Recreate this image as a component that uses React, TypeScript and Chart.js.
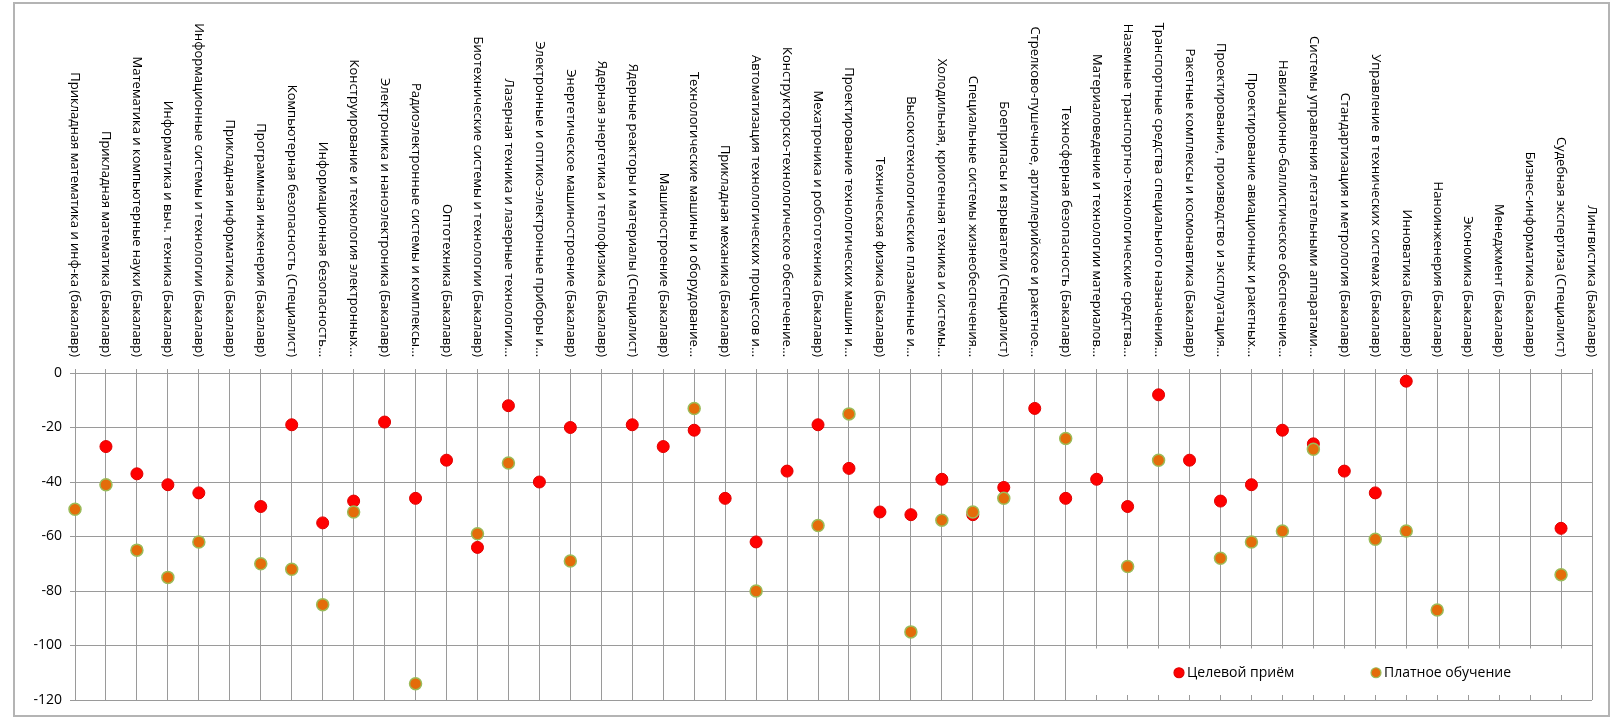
import React, { useEffect, useRef } from "react";
import { Chart, registerables } from "chart.js";

Chart.register(...registerables);

const categories: string[] = [
  "Прикладная математика и инф-ка (бакалавр)",
  "Прикладная математика (Бакалавр)",
  "Математика и компьютерные науки (Бакалавр)",
  "Информатика и выч. техника (Бакалавр)",
  "Информационные системы и технологии (Бакалавр)",
  "Прикладная информатика (Бакалавр)",
  "Программная инженерия (Бакалавр)",
  "Компьютерная безопасность (Специалист)",
  "Информационная безопасность…",
  "Конструирование и технология электронных…",
  "Электроника и наноэлектроника (Бакалавр)",
  "Радиоэлектронные системы и комплексы…",
  "Оптотехника (Бакалавр)",
  "Биотехнические системы и технологии (Бакалавр)",
  "Лазерная техника и лазерные технологии…",
  "Электронные и оптико-электронные приборы и…",
  "Энергетическое машиностроение (Бакалавр)",
  "Ядерная энергетика и теплофизика (Бакалавр)",
  "Ядерные реакторы и материалы (Специалист)",
  "Машиностроение (Бакалавр)",
  "Технологические машины и оборудование…",
  "Прикладная механика (Бакалавр)",
  "Автоматизация технологических процессов и…",
  "Конструкторско-технологическое обеспечение…",
  "Мехатроника и робототехника (Бакалавр)",
  "Проектирование технологических машин и…",
  "Техническая физика (Бакалавр)",
  "Высокотехнологические плазменные и…",
  "Холодильная, криогенная техника и системы…",
  "Специальные системы жизнеобеспечения…",
  "Боеприпасы и взрыватели (Специалист)",
  "Стрелково-пушечное, артиллерийское и ракетное…",
  "Техносферная безопасность (Бакалавр)",
  "Материаловедение и технологии материалов…",
  "Наземные транспортно-технологические средства…",
  "Транспортные средства специального назначения…",
  "Ракетные комплексы и космонавтика (Бакалавр)",
  "Проектирование, производство и эксплуатация…",
  "Проектирование авиационных и ракетных…",
  "Навигационно-баллистическое обеспечение…",
  "Системы управления летательными аппаратами…",
  "Стандартизация и метрология (Бакалавр)",
  "Управление в технических системах (Бакалавр)",
  "Инноватика (Бакалавр)",
  "Наноинженерия (Бакалавр)",
  "Экономика (Бакалавр)",
  "Менеджмент (Бакалавр)",
  "Бизнес-информатика (Бакалавр)",
  "Судебная экспертиза (Специалист)",
  "Лингвистика (Бакалавр)",
];

const seriesNames: string[] = ["Целевой приём", "Платное обучение"];

const targetIntake: (number | null)[] = [
  null, -27, -37, -41, -44, null, -49, -19, -55, -47,
  -18, -46, -32, -64, -12, -40, -20, null, -19, -27,
  -21, -46, -62, -36, -19, -35, -51, -52, -39, -52,
  -42, -13, -46, -39, -49, -8, -32, -47, -41, -21,
  -26, -36, -44, -3, null, null, null, null, -57, null,
];

const paidEducation: (number | null)[] = [
  -50, -41, -65, -75, -62, null, -70, -72, -85, -51,
  null, -114, null, -59, -33, null, -69, null, null, null,
  -13, null, -80, null, -56, -15, null, -95, -54, -51,
  -46, null, -24, null, -71, -32, null, -68, -62, -58,
  -28, null, -61, -58, -87, null, null, null, -74, null,
];

const yMin = -120;
const yMax = 0;
const yStep = 20;

const FONT = "'Open Sans', 'Noto Sans', sans-serif";
const GRID = "#9a9a9a";

const framePlugin = {
  id: "frame",
  beforeDraw(chart: any) {
    const ctx = chart.ctx;
    ctx.save();
    ctx.fillStyle = "#ffffff";
    ctx.fillRect(0, 0, chart.width, chart.height);
    ctx.strokeStyle = "#b4b4b4";
    ctx.lineWidth = 2;
    ctx.strokeRect(14, 3, 1595, 713);
    ctx.restore();
  },
};

const topLabelsPlugin = {
  id: "topLabels",
  afterDraw(chart: any) {
    const ctx = chart.ctx;
    const xs = chart.scales.x;
    const labels: string[] = chart.data.labels;
    ctx.save();
    ctx.fillStyle = "#000000";
    ctx.font = `13px ${FONT}`;
    ctx.textAlign = "right";
    ctx.textBaseline = "middle";
    labels.forEach((lab, i) => {
      const x = xs.getPixelForTick(i);
      ctx.save();
      ctx.translate(x, chart.chartArea.top - 16);
      ctx.rotate(Math.PI / 2);
      ctx.fillText(lab, 0, 0);
      ctx.restore();
    });
    ctx.restore();
  },
};

const legendPlugin = {
  id: "boxLegend",
  afterDraw(chart: any) {
    const ctx = chart.ctx;
    const area = chart.chartArea;
    const ys = chart.scales.y;
    const top = ys.getPixelForValue(-100) + 3;
    const bottom = ys.getPixelForValue(-120) - 5;
    const left = 1093;
    ctx.save();
    ctx.fillStyle = "#ffffff";
    ctx.fillRect(left, top, area.right - 1 - left, bottom - top);
    const cy = (top + bottom) / 2 + 1;
    const xsPos = [1179, 1376];
    ctx.font = `14px ${FONT}`;
    ctx.textAlign = "left";
    ctx.textBaseline = "middle";
    chart.data.datasets.forEach((ds: any, i: number) => {
      const cx = xsPos[i];
      ctx.beginPath();
      ctx.arc(cx, cy, 5, 0, Math.PI * 2);
      ctx.fillStyle = ds.pointBackgroundColor;
      ctx.fill();
      ctx.lineWidth = 1.2;
      ctx.strokeStyle = ds.pointBorderColor;
      ctx.stroke();
      ctx.fillStyle = "#000000";
      ctx.fillText(ds.label, cx + 8, cy);
    });
    ctx.restore();
  },
};

export default function App() {
  const ref = useRef<HTMLCanvasElement | null>(null);

  useEffect(() => {
    document.body.style.margin = "0";
    if (!ref.current) return;
    const chart = new Chart(ref.current, {
      type: "line",
      data: {
        labels: categories,
        datasets: [
          {
            label: seriesNames[0],
            data: targetIntake,
            showLine: false,
            pointRadius: 6,
            pointHoverRadius: 6,
            pointBackgroundColor: "#ff0000",
            pointBorderColor: "#e00000",
            pointBorderWidth: 1,
            borderColor: "#ff0000",
            backgroundColor: "#ff0000",
            order: 2,
          },
          {
            label: seriesNames[1],
            data: paidEducation,
            showLine: false,
            pointRadius: 6,
            pointHoverRadius: 6,
            pointBackgroundColor: "#e46c0a",
            pointBorderColor: "#9bbb59",
            pointBorderWidth: 1.5,
            borderColor: "#e46c0a",
            backgroundColor: "#e46c0a",
            order: 1,
          },
        ],
      },
      options: {
        responsive: false,
        animation: false,
        layout: { padding: { left: 0, top: 0, right: 29, bottom: 23 } },
        plugins: {
          legend: { display: false },
          tooltip: { enabled: false },
        },
        scales: {
          x: {
            type: "category",
            position: "top",
            offset: false,
            grid: {
              color: GRID,
              lineWidth: 1,
              offset: false,
              drawTicks: true,
              tickLength: 4,
            },
            border: { color: GRID, width: 1 },
            ticks: { display: false, autoSkip: false },
            afterFit(scale: any) {
              scale.height = 373;
            },
          },
          y: {
            type: "linear",
            min: yMin,
            max: yMax,
            ticks: {
              stepSize: yStep,
              color: "#000000",
              font: { family: FONT, size: 14 },
              padding: 8,
            },
            grid: { color: GRID, lineWidth: 1, tickLength: 5 },
            border: { color: GRID, width: 1 },
            afterFit(scale: any) {
              scale.width = 75;
            },
          },
        },
      },
      plugins: [framePlugin, topLabelsPlugin, legendPlugin],
    });
    return () => chart.destroy();
  }, []);

  return (
    <div style={{ width: 1621, height: 723 }}>
      <canvas ref={ref} width={1621} height={723} style={{ display: "block" }} />
    </div>
  );
}
